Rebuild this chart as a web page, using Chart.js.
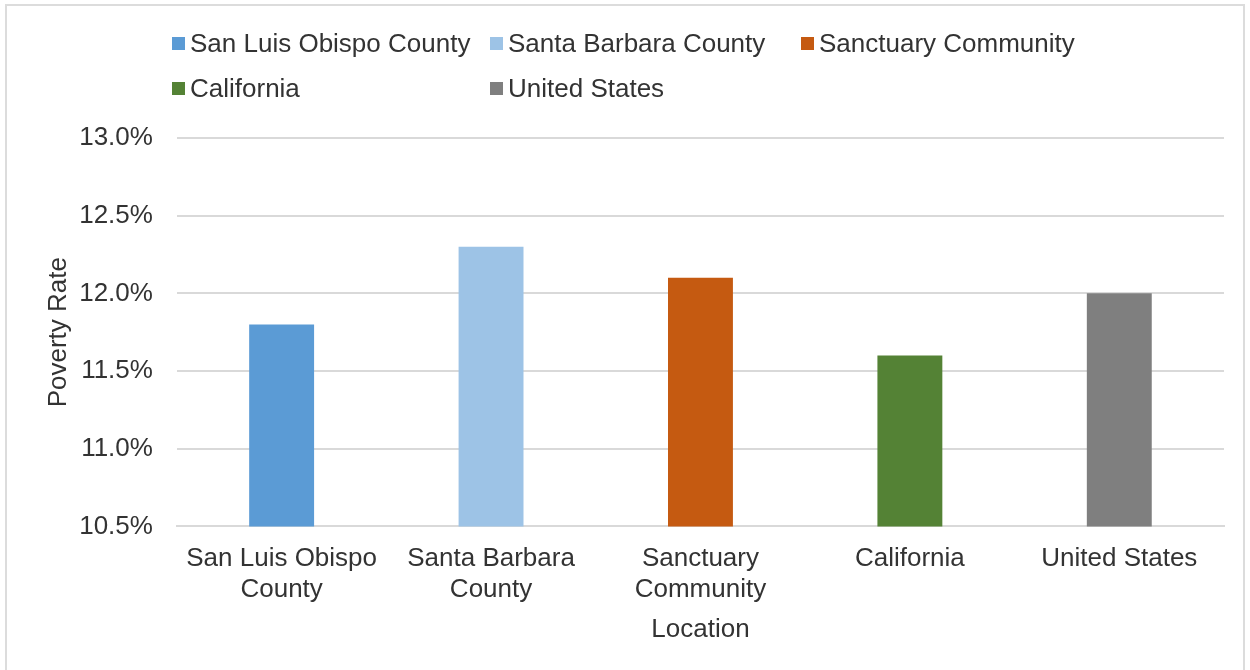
<!DOCTYPE html>
<html>
<head>
<meta charset="utf-8">
<script src="https://cdn.jsdelivr.net/npm/chart.js@4/dist/chart.umd.min.js"></script>
<style>
  body { margin: 0; background: #fff; }
  #wrap { position: relative; width: 1250px; height: 670px; }
  #frame { position: absolute; left: 5px; top: 4px; width: 1240px; height: 680px; border: 2px solid #dcdcdc; box-sizing: border-box; pointer-events: none; }
</style>
</head>
<body>
<div id="wrap">
  <canvas id="chart" width="1250" height="670"></canvas>
  <div id="frame"></div>
</div>
<script>
var locations = ["San Luis Obispo County", "Santa Barbara County", "Sanctuary Community", "California", "United States"];
var tickLabels = [["San Luis Obispo", "County"], ["Santa Barbara", "County"], ["Sanctuary", "Community"], "California", "United States"];
var povertyRate = [11.8, 12.3, 12.1, 11.6, 12.0];
var barColors = ["#5b9bd5", "#9dc3e6", "#c55a11", "#548235", "#7f7f7f"];

var FONT = "'Liberation Sans', Arial, sans-serif";
var TEXT = "#333333";

// legend drawn in fixed columns, like the original
var gridLegend = {
  id: "gridLegend",
  afterDraw: function(chart) {
    var ctx = chart.ctx;
    var colX = [172, 490, 801];
    var rowY = [44, 89];
    ctx.save();
    ctx.font = "26px " + FONT;
    ctx.textBaseline = "middle";
    locations.forEach(function(name, i) {
      var x = colX[i % 3];
      var y = rowY[Math.floor(i / 3)];
      ctx.fillStyle = barColors[i];
      ctx.fillRect(x, y - 7, 13, 13);
      ctx.fillStyle = TEXT;
      ctx.fillText(name, x + 18, y + 1);
    });
    ctx.restore();
  }
};

new Chart(document.getElementById("chart"), {
  type: "bar",
  data: {
    labels: tickLabels,
    datasets: [{
      label: "Poverty Rate",
      data: povertyRate,
      backgroundColor: barColors,
      categoryPercentage: 1.0,
      barPercentage: 0.31
    }]
  },
  options: {
    responsive: false,
    animation: false,
    layout: { padding: { top: 138, right: 26, bottom: 21, left: 39 } },
    plugins: {
      legend: { display: false },
      tooltip: { enabled: false }
    },
    scales: {
      x: {
        grid: { display: false },
        border: { color: "#d9d9d9", width: 2 },
        ticks: { color: TEXT, font: { family: FONT, size: 26 }, padding: 9, maxRotation: 0 },
        title: { display: true, text: "Location", color: TEXT, font: { family: FONT, size: 26 }, padding: { top: -1, bottom: 4 } }
      },
      y: {
        min: 10.5,
        max: 13.0,
        grid: { color: "#d9d9d9", lineWidth: 2, drawTicks: false },
        border: { display: false },
        ticks: {
          stepSize: 0.5,
          color: TEXT,
          font: { family: FONT, size: 26 },
          padding: 24,
          callback: function(v) { return v.toFixed(1) + "%"; }
        },
        title: { display: true, text: "Poverty Rate", color: TEXT, font: { family: FONT, size: 26 }, padding: { top: 4, bottom: -19 } }
      }
    }
  },
  plugins: [gridLegend]
});
</script>
</body>
</html>
